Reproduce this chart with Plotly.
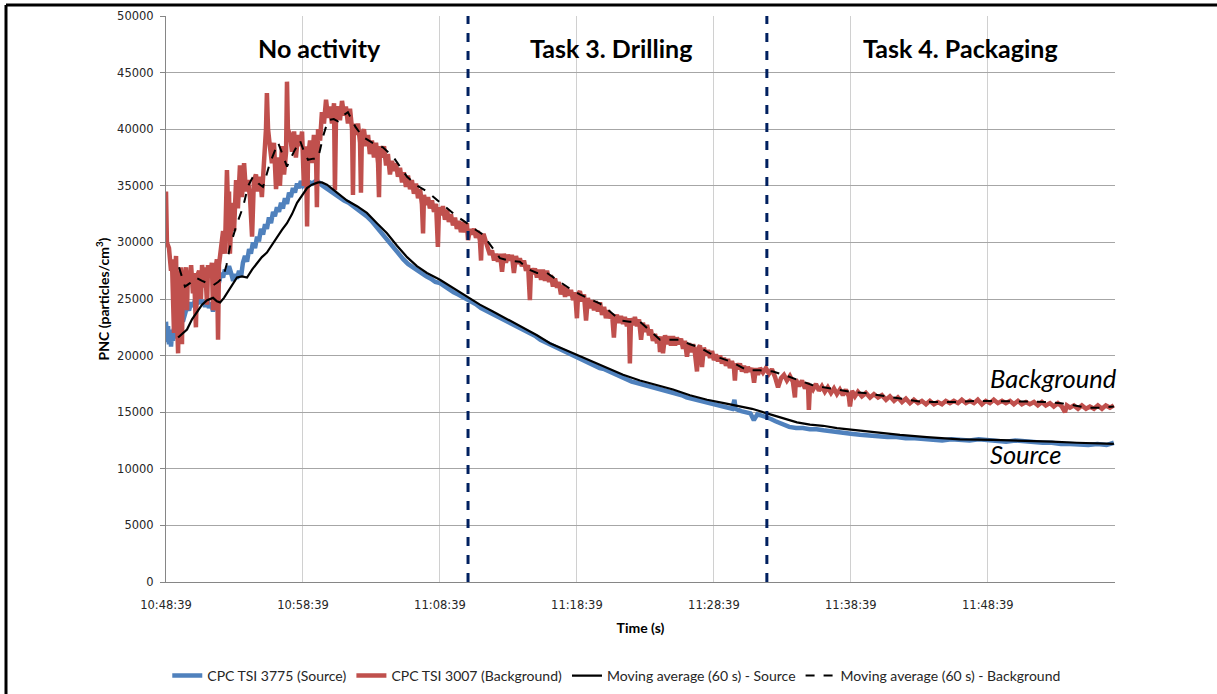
import pandas as pd
import plotly.graph_objects as go

START = "2013-01-01 10:48:39"

# ---- CPC TSI 3007 (Background) raw: seconds since 10:48:39, PNC ----
bg_t = [0, 4, 13, 22, 26, 31, 35, 39, 44, 48, 53, 57, 61, 66, 70, 74, 79, 88, 92, 96,
        105, 110, 118, 123, 131, 136, 145, 153, 158, 166, 171, 180, 184, 193, 201, 206, 215, 223, 228, 232,
        241, 250, 258, 267, 272, 276, 280, 289, 298, 307, 315, 324, 333, 342, 350, 359, 368, 377, 385, 394,
        403, 412, 420, 429, 438, 442, 447, 455, 464, 473, 482, 491, 499, 508, 517, 526, 530, 534, 543, 552,
        561, 569, 578, 587, 596, 604, 613, 618, 622, 631, 639, 648, 657, 661, 666, 675, 683, 692, 701, 710,
        718, 727, 736, 740, 745, 753, 762, 771, 780, 788, 797, 806, 815, 819, 823, 832, 841, 850, 854, 858,
        867, 876, 885, 893, 902, 911, 920, 929, 933, 937, 946, 955, 964, 972, 981, 990, 999, 1007, 1016, 1025,
        1034, 1042, 1051, 1060, 1069, 1077, 1086, 1095, 1104, 1113, 1121, 1126, 1130, 1139, 1148, 1156, 1165, 1174, 1183, 1191,
        1196, 1204, 1213, 1222, 1231, 1239, 1248, 1257, 1266, 1274, 1283, 1292, 1301, 1310, 1318, 1323, 1332, 1340, 1349, 1358,
        1366, 1375, 1380, 1384, 1393, 1402, 1410, 1419, 1428, 1437, 1445, 1454, 1463, 1472, 1480, 1489, 1498, 1507, 1515, 1524,
        1533, 1542, 1550, 1559, 1568, 1577, 1586, 1594, 1599, 1607, 1616, 1625, 1634, 1643, 1651, 1660, 1669, 1678, 1686, 1695,
        1704, 1713, 1721, 1730, 1739, 1748, 1756, 1765, 1774, 1783, 1792, 1800, 1805, 1813, 1822, 1831, 1840, 1848, 1857, 1866,
        1875, 1883, 1892, 1901, 1910, 1919, 1927, 1936, 1945, 1954, 1962, 1967, 1975, 1984, 1993, 2002, 2010, 2019, 2028, 2032,
        2037, 2046, 2054, 2063, 2072, 2081, 2089, 2098, 2107, 2116, 2124, 2133, 2142, 2151, 2159, 2164, 2168, 2177, 2186, 2195,
        2203, 2212, 2221, 2230, 2238, 2247, 2256, 2265, 2273, 2282, 2291, 2300, 2309, 2317, 2326, 2330, 2339, 2348, 2356, 2365,
        2374, 2383, 2392, 2400, 2409, 2418, 2427, 2435, 2444, 2453, 2462, 2470, 2479, 2488, 2492, 2497, 2506, 2514, 2523, 2532,
        2541, 2549, 2558, 2567, 2576, 2584, 2593, 2602, 2615, 2628, 2641, 2654, 2668, 2681, 2694, 2707, 2720, 2733, 2746, 2755,
        2759, 2773, 2786, 2799, 2812, 2816, 2821, 2834, 2847, 2860, 2873, 2886, 2899, 2913, 2926, 2939, 2952, 2965, 2978, 2991,
        2996, 3005, 3018, 3031, 3048, 3066, 3084, 3101, 3119, 3136, 3154, 3171, 3189, 3206, 3224, 3241, 3259, 3276, 3294, 3311,
        3329, 3346, 3364, 3381, 3399, 3416, 3434, 3451, 3469, 3486, 3504, 3521, 3539, 3556, 3574, 3591, 3609, 3626, 3644, 3662,
        3679, 3697, 3714, 3732, 3749, 3767, 3784, 3802, 3819, 3837, 3854, 3872, 3889, 3907, 3924, 3938, 3946, 3960, 3977, 3995,
        4012, 4030, 4047, 4065, 4082, 4100, 4117, 4135, 4152]
bg_v = [34500, 30000, 29500, 27500, 28500, 26000, 22000, 27000, 28800, 23500, 20200, 27500, 25000, 27800, 21000, 27500, 26500, 27800, 24000, 27500,
        26500, 28000, 25500, 27300, 22500, 27000, 27500, 25000, 28000, 26000, 27800, 24500, 28000, 27000, 28200, 24000, 27500, 28500, 21400, 28000,
        29500, 31000, 29000, 36400, 33000, 34500, 29000, 33500, 31000, 35500, 33000, 36800, 34000, 37000, 34500, 35500, 34000, 30500, 35500, 36000,
        34500, 35800, 34000, 36500, 40000, 43200, 40000, 38500, 37000, 38800, 34700, 37500, 35000, 38500, 36000, 38000, 44200, 40000, 39500, 38000,
        39800, 37500, 39500, 38500, 39800, 35000, 38500, 31400, 37500, 39000, 37000, 39500, 38000, 33100, 40000, 39000, 41500, 40500, 42600, 41000,
        42000, 40500, 42300, 34600, 41500, 42000, 40800, 42500, 41200, 42000, 40500, 41800, 40000, 34200, 40500, 39500, 40500, 38800, 34400, 39500,
        40000, 38500, 39500, 37800, 39000, 37500, 38800, 37000, 34000, 38500, 37500, 38500, 36800, 37800, 36000, 37200, 36300, 37000, 35800, 36600,
        35300, 36200, 34900, 35900, 34700, 35500, 34300, 35200, 33900, 34700, 33400, 30800, 34200, 33300, 34000, 33000, 33700, 32700, 33400, 29600,
        33100, 32400, 33200, 32000, 32900, 31800, 32500, 31500, 32200, 31200, 31900, 30900, 31800, 30900, 31700, 30200, 31200, 30700, 31200, 30400,
        31000, 30200, 28400, 30600, 30600, 30000, 29600, 28900, 29300, 28400, 29000, 28300, 29000, 27400, 29000, 28200, 28900, 28400, 28900, 27300,
        28800, 28100, 28600, 27900, 28400, 27500, 28000, 24900, 27700, 27200, 27700, 26900, 27600, 26700, 27600, 26600, 27500, 26500, 27100, 26100,
        26800, 26000, 26500, 25400, 26200, 25200, 26000, 25300, 25800, 24900, 25600, 23300, 25400, 25700, 24800, 25400, 23100, 25100, 24200, 24900,
        24000, 24800, 23900, 24700, 23600, 24300, 23300, 24000, 23300, 23700, 21600, 23200, 23600, 22900, 23500, 22800, 23400, 22600, 23300, 19300,
        23300, 22700, 23400, 22600, 23200, 21400, 22900, 22100, 22700, 21800, 22300, 21300, 21900, 21100, 21700, 20300, 21700, 20200, 21800, 21000,
        21700, 20900, 21700, 20900, 21600, 21000, 21500, 20600, 21300, 19900, 21100, 20300, 21000, 20200, 18600, 20600, 20900, 19000, 20700, 20000,
        20500, 19800, 20400, 19600, 20100, 19500, 20000, 19300, 19800, 19100, 19700, 18900, 19500, 18900, 17800, 19300, 18800, 19300, 18600, 19100,
        18500, 19000, 18600, 18900, 17600, 18900, 18300, 18900, 18500, 18900, 18400, 18800, 18100, 17200, 18000, 18300, 17800, 18200, 17700, 16300,
        17900, 17300, 17800, 17100, 17600, 15200, 17400, 17000, 17500, 16900, 17300, 16800, 17200, 16700, 17100, 16600, 17000, 16500, 17000, 16400,
        15500, 16900, 16400, 16800, 16400, 16700, 16300, 16600, 16300, 16500, 16100, 16400, 16000, 16300, 15900, 16200, 15800, 16100, 15800, 16000,
        15700, 16000, 15700, 15900, 15700, 16000, 15800, 16000, 15800, 16100, 15800, 16000, 15800, 16100, 15700, 16000, 15800, 16100, 15800, 16000,
        15800, 16000, 15700, 16000, 15700, 15900, 15700, 15900, 15600, 15900, 15600, 15800, 15500, 15800, 15500, 15000, 15600, 15400, 15600, 15300,
        15600, 15300, 15500, 15300, 15600, 15300, 15600, 15400, 15600]

# ---- CPC TSI 3775 (Source) raw ----
src_t = [0, 4, 9, 13, 18, 22, 26, 31, 35, 39, 44, 48, 57, 66, 74, 83, 92, 101, 110, 118,
         127, 136, 145, 153, 162, 171, 180, 188, 197, 206, 215, 223, 232, 241, 250, 258, 267, 276, 285, 294,
         302, 311, 320, 329, 337, 346, 355, 364, 372, 381, 390, 399, 407, 416, 425, 434, 442, 451, 460, 469,
         477, 486, 495, 504, 512, 521, 530, 539, 547, 556, 565, 574, 582, 591, 600, 620, 640, 660, 680, 700,
         720, 740, 760, 780, 800, 820, 840, 860, 880, 900, 920, 940, 960, 980, 1000, 1020, 1040, 1060, 1080, 1100,
         1120, 1140, 1160, 1180, 1200, 1220, 1240, 1260, 1280, 1300, 1320, 1340, 1360, 1380, 1400, 1420, 1440, 1460, 1480, 1500,
         1520, 1540, 1560, 1580, 1600, 1620, 1640, 1660, 1680, 1700, 1720, 1740, 1760, 1780, 1800, 1820, 1840, 1860, 1880, 1900,
         1920, 1940, 1960, 1980, 2000, 2020, 2040, 2060, 2080, 2100, 2120, 2140, 2160, 2180, 2200, 2220, 2240, 2260, 2280, 2300,
         2320, 2340, 2360, 2380, 2400, 2420, 2440, 2460, 2480, 2490, 2495, 2520, 2540, 2560, 2575, 2590, 2610, 2630, 2650, 2670,
         2690, 2710, 2730, 2760, 2790, 2820, 2850, 2880, 2910, 2940, 2970, 3000, 3040, 3080, 3120, 3160, 3200, 3240, 3280, 3320,
         3360, 3400, 3440, 3480, 3520, 3560, 3600, 3640, 3680, 3720, 3760, 3800, 3840, 3880, 3920, 3960, 4000, 4040, 4080, 4120,
         4152]
src_v = [23000, 21200, 22600, 21000, 22300, 20800, 21900, 21300, 22400, 21500, 22600, 22000, 23000, 23400, 23000, 23900, 24300, 24000, 24700, 24300,
         24900, 24500, 25100, 24600, 24900, 24300, 25000, 24200, 24700, 23900, 24500, 25600, 26700, 27300, 26900, 27600, 27200, 27900, 27300, 26600,
         27200, 26800, 27500, 27000, 28200, 28800, 28300, 29400, 29000, 30000, 29500, 30500, 30100, 31200, 30700, 31600, 31200, 32200, 31700, 32700,
         32300, 33100, 32700, 33500, 33000, 33900, 33400, 34400, 34000, 34800, 34400, 35200, 34800, 35400, 35000, 35400, 35200, 35500, 35100, 34800,
         34500, 34300, 34000, 33700, 33500, 33200, 33000, 32600, 32300, 31900, 31400, 31000, 30500, 30000, 29500, 29000, 28500, 28100, 27800, 27500,
         27200, 27000, 26800, 26500, 26400, 26100, 25900, 25600, 25400, 25200, 24900, 24700, 24500, 24200, 24000, 23800, 23600, 23400, 23200, 23000,
         22800, 22500, 22300, 22100, 21900, 21700, 21400, 21200, 21000, 20800, 20600, 20400, 20300, 20100, 19900, 19700, 19500, 19300, 19100, 18900,
         18800, 18600, 18400, 18200, 18000, 17900, 17700, 17600, 17500, 17400, 17300, 17200, 17000, 16900, 16800, 16700, 16600, 16500, 16300, 16200,
         16100, 16000, 15900, 15800, 15700, 15600, 15500, 15400, 15300, 16100, 15300, 15100, 15000, 14900, 14300, 14800, 14700, 14600, 14400, 14200,
         14000, 13800, 13700, 13600, 13600, 13500, 13500, 13400, 13300, 13300, 13200, 13100, 13000, 12900, 12900, 12800, 12800, 12700, 12700, 12600,
         12600, 12500, 12600, 12500, 12500, 12600, 12500, 12500, 12400, 12500, 12400, 12400, 12300, 12300, 12200, 12200, 12100, 12100, 12200, 12100,
         12300]

# ---- Moving average (60 s) - Source ----
ma_src_t = [53, 74, 92, 114, 136, 158, 180, 206, 223, 237, 254, 267, 289, 311, 333, 355, 377, 399, 420, 442,
            464, 486, 508, 530, 552, 574, 596, 618, 639, 666, 683, 705, 749, 793, 837, 880, 924, 968, 1012, 1056,
            1099, 1143, 1200, 1257, 1318, 1375, 1432, 1498, 1564, 1625, 1682, 1739, 1800, 1866, 1932, 2002, 2076, 2146, 2221, 2295,
            2370, 2444, 2514, 2567, 2632, 2698, 2764, 2821, 2878, 2939, 3027, 3114, 3215, 3333, 3478, 3622, 3771, 3881, 3990, 4091,
            4152]
ma_src_v = [21600, 22000, 22300, 23200, 23800, 24500, 24900, 25100, 24800, 24700, 25100, 25500, 26300, 26900, 27000, 26900, 27600, 28200, 28700, 29100,
            29800, 30500, 31100, 31700, 32500, 33500, 34200, 34800, 35100, 35300, 35300, 35100, 34400, 33700, 33200, 32600, 31700, 30800, 29700, 28700,
            27900, 27300, 26700, 26000, 25200, 24500, 23900, 23200, 22500, 21800, 21100, 20600, 20100, 19500, 18900, 18300, 17800, 17400, 17000, 16500,
            16100, 15800, 15500, 15300, 14900, 14500, 14100, 13900, 13800, 13600, 13400, 13200, 13000, 12800, 12600, 12550, 12500, 12400, 12300, 12200,
            12200]

# ---- Moving average (60 s) - Background ----
ma_bg_t = [57, 83, 105, 131, 158, 180, 206, 228, 250, 265, 280, 310, 337, 360, 381, 405, 425, 455, 491, 510,
           530, 560, 587, 605, 622, 645, 666, 690, 710, 735, 753, 775, 797, 830, 863, 905, 950, 994, 1056, 1100,
           1143, 1190, 1231, 1275, 1318, 1350, 1388, 1420, 1463, 1500, 1550, 1590, 1625, 1669, 1720, 1770, 1813, 1860, 1901, 1945,
           1989, 2030, 2076, 2120, 2164, 2210, 2251, 2295, 2339, 2383, 2427, 2483, 2545, 2600, 2659, 2720, 2777, 2830, 2880, 2940,
           3000, 3060, 3120, 3180, 3240, 3300, 3360, 3450, 3550, 3650, 3750, 3850, 3920, 3980, 4030, 4090, 4152]
ma_bg_v = [27800, 26100, 26400, 26900, 26600, 26400, 26200, 26500, 26900, 28000, 29600, 31600, 33100, 35000, 35800, 35200, 34900, 37000, 38800, 37800,
           36700, 38000, 39000, 38000, 37300, 37400, 37400, 39500, 40800, 40900, 40700, 41200, 41500, 40200, 39300, 38800, 38400, 37600, 35800, 35000,
           34500, 33700, 33000, 32300, 31700, 31200, 30700, 29800, 28600, 28400, 28300, 27600, 27300, 27300, 26600, 25900, 25400, 25000, 24600, 23900,
           23100, 23000, 23000, 22200, 21400, 21400, 21400, 21000, 20700, 20200, 19800, 19400, 18700, 18700, 18600, 18200, 17800, 17400, 17200, 17000,
           16800, 16700, 16500, 16300, 16100, 15950, 15900, 15900, 16000, 16000, 15950, 15900, 15800, 15600, 15400, 15400, 15500]

task_marks = [1323, 2632]          # seconds of the dashed task separators
x_end = 4157
y_ticks = list(range(0, 50001, 5000))
section_labels = ["No activity", "Task 3. Drilling", "Task 4. Packaging"]
legend_names = ["CPC TSI 3775 (Source)", "CPC TSI 3007 (Background)",
                "Moving average (60 s) - Source", "Moving average (60 s) - Background"]


def to_time(secs):
    return pd.Timestamp(START) + pd.to_timedelta(secs, unit="s")


fig = go.Figure()
fig.add_trace(go.Scatter(x=to_time(src_t), y=src_v, mode="lines", name=legend_names[0],
                         line=dict(color="#4F81BD", width=4.5)))
fig.add_trace(go.Scatter(x=to_time(bg_t), y=bg_v, mode="lines", name=legend_names[1],
                         line=dict(color="#C0504D", width=4.5)))
fig.add_trace(go.Scatter(x=to_time(ma_src_t), y=ma_src_v, mode="lines", name=legend_names[2],
                         line=dict(color="black", width=2.2)))
fig.add_trace(go.Scatter(x=to_time(ma_bg_t), y=ma_bg_v, mode="lines", name=legend_names[3],
                         line=dict(color="black", width=2, dash="dash")))

for s in task_marks:
    fig.add_shape(type="line", xref="x", yref="paper", x0=to_time(s), x1=to_time(s), y0=0, y1=1,
                  line=dict(color="#002060", width=3, dash="dash"), layer="above")

# frame lines (top and left) of the figure
fig.add_shape(type="line", xref="paper", yref="paper", x0=-0.1686, x1=1.11, y0=1.0194, y1=1.0194,
              line=dict(color="black", width=3))
fig.add_shape(type="line", xref="paper", yref="paper", x0=-0.1686, x1=-0.1686, y0=1.0194, y1=-0.2,
              line=dict(color="black", width=3))

head_font = dict(family="Lato", size=25, color="black")
for txt, xs in zip(section_labels, [0.1617, 0.4694, 0.8372]):
    fig.add_annotation(text="<b>%s</b>" % txt, xref="paper", yref="paper", x=xs, y=0.943,
                       showarrow=False, font=head_font, xanchor="center", yanchor="middle")

fig.add_annotation(text="<i>Background</i>", xref="paper", yref="paper", x=0.866, y=0.360,
                   showarrow=False, font=dict(family="Lato", size=25.5, color="black"),
                   xanchor="left", yanchor="middle")
fig.add_annotation(text="<i>Source</i>", xref="paper", yref="paper", x=0.866, y=0.226,
                   showarrow=False, font=dict(family="Lato", size=25.5, color="black"),
                   xanchor="left", yanchor="middle")

fig.update_layout(
    width=1217, height=694,
    margin=dict(l=166, r=102, t=16, b=112, autoexpand=False),
    paper_bgcolor="white", plot_bgcolor="white",
    showlegend=True,
    legend=dict(orientation="h", x=0.475, y=-0.166, xanchor="center", yanchor="middle",
                font=dict(family="Lato", size=14, color="#262626"),
                tracegroupgap=0, bgcolor="rgba(0,0,0,0)"),
    xaxis=dict(type="date", range=[to_time(0), to_time(x_end)], tick0=to_time(0), dtick=600000,
               tickformat="%H:%M:%S", showgrid=True, gridcolor="#d0d0d0", gridwidth=1,
               showline=True, linecolor="#868686", linewidth=1, ticks="outside", ticklen=0,
               zeroline=False, automargin=False, ticklabelstandoff=12,
               minor=dict(tick0=to_time(0), dtick=1200000, ticks="outside", ticklen=5,
                          tickcolor="#868686", showgrid=False),
               tickfont=dict(family="DejaVu Sans", size=11.5, color="#262626"),
               title=dict(text="<b>Time (s)</b>", font=dict(family="Lato", size=14, color="black"),
                          standoff=12)),
    yaxis=dict(range=[0, 50000], tickvals=y_ticks, tickformat="d", showgrid=True,
               gridcolor="#a6a6a6", gridwidth=1, showline=True, linecolor="#868686", linewidth=1,
               ticks="outside", ticklen=5, tickcolor="#868686", zeroline=False, automargin=False,
               ticklabelstandoff=4,
               tickfont=dict(family="DejaVu Sans", size=11.5, color="#262626"),
               title=dict(text="<b>PNC (particles/cm<sup>3</sup>)</b>",
                          font=dict(family="Lato", size=14, color="black"), standoff=4)),
)

fig.write_html("out.html", config={"displayModeBar": False},
               post_script="document.body.style.margin='0px';")
